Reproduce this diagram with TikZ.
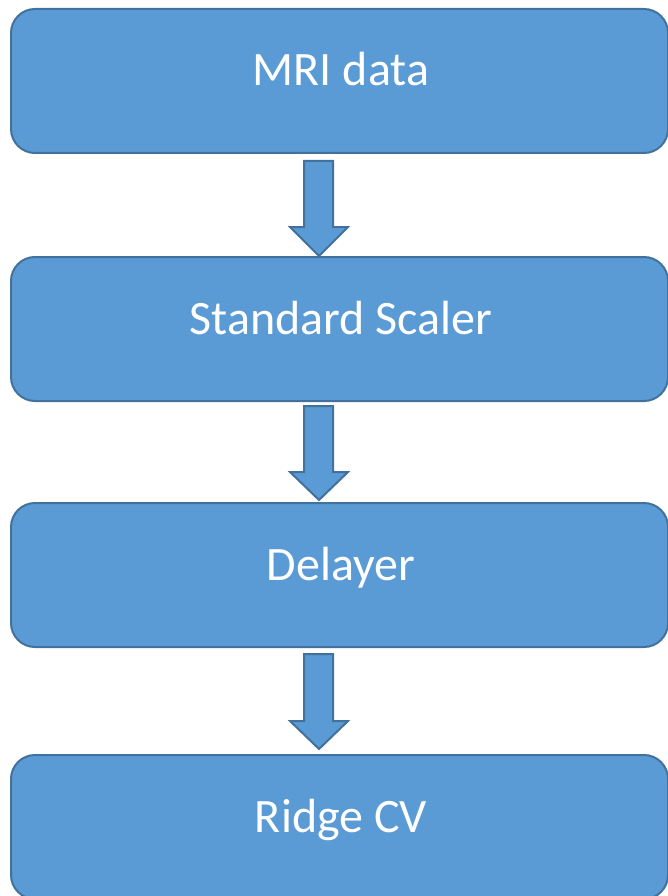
\documentclass[tikz,border=0pt]{standalone}
\usepackage{fontspec}
\setmainfont{Carlito}
\usetikzlibrary{calc}
\definecolor{boxfill}{HTML}{5B9BD5}
\definecolor{boxline}{HTML}{41719C}
\tikzset{
  stagebox/.style={draw=boxline, fill=boxfill, line width=2pt, rounded corners=24pt,
    minimum width=657pt, minimum height=144pt, inner sep=0pt, outer sep=0pt},
  stagetext/.style={text=white, anchor=base, inner sep=0pt, font=\fontsize{48}{57}\selectfont},
  blockarrow/.style={draw=boxline, fill=boxfill, line width=2pt, line join=miter}
}
\begin{document}
\begin{tikzpicture}[x=1pt, y=-1pt]
  \useasboundingbox (0,0) rectangle (667,896);

  % four pipeline stages
  \node[stagebox] (b1) at (339.5,81) {};
  \node[stagebox] (b2) at (339.5,329) {};
  \node[stagebox] (b3) at (339.5,575) {};
  \node[stagebox] (b4) at (339.5,827) {};

  \node[stagetext] (t1) at (341,86) {MRI data};
  \node[stagetext] (t2) at (341,334) {Standard Scaler};
  \node[stagetext] (t3) at (341,580) {Delayer};
  \node[stagetext] (t4) at (341,832) {Ridge CV};

  % block arrows between stages: shaft top, head start, tip
  \foreach \from/\to/\top/\head/\tip in {b1/b2/161/227/256, b2/b3/406/472/500, b3/b4/654/721/749} {
    \coordinate (\from-out) at (319,\top);
    \coordinate (\to-in) at (319,\tip);
    \draw[blockarrow] ($(\from-out)+(-15,0)$) -- ($(\from-out)+(14,0)$)
      -- (333,\head) -- (348,\head) -- (\to-in) -- (290,\head) -- (304,\head) -- cycle;
  }
\end{tikzpicture}
\end{document}
